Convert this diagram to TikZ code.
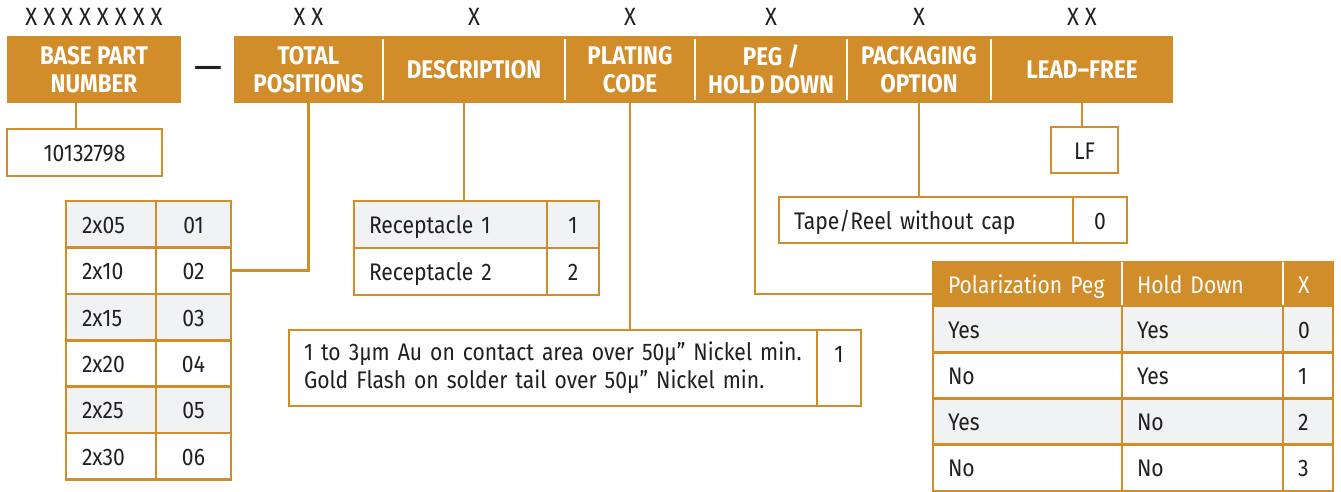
\documentclass[tikz,border=0pt]{standalone}
\usepackage{fontspec}
\setmainfont{Fira Sans}[FakeStretch=0.88]
\usepackage{tikz}
\usetikzlibrary{positioning}

\definecolor{brand}{HTML}{D18D2A}
\definecolor{rowgray}{HTML}{F1F2F3}
\definecolor{ink}{HTML}{231F20}

\tikzset{
  every node/.style={outer sep=0pt, text=ink},
  hdr/.style={fill=brand, text=white, font=\bfseries\fontsize{25.5}{28.5}\selectfont, align=center, inner sep=0pt, minimum height=67pt},
  sep/.style={draw=white, line width=2.5pt},
  box/.style={draw=brand, line width=2.6pt, fill=white, font=\fontsize{24}{28}\selectfont, inner sep=0pt, text height=20pt, text depth=2pt},
  lcell/.style={box, align=left, text width=#1, inner xsep=15pt},
  ccell/.style={box, align=center, minimum width=#1},
  phdr/.style={fill=brand, text=white},
  link/.style={draw=brand, line width=2.6pt},
  xmark/.style={font=\fontsize{25}{28}\selectfont, inner sep=0pt},
}

\begin{document}
\begin{tikzpicture}[x=1pt, y=-1pt]
\useasboundingbox (0,0) rectangle (1341,492);

% part number band
\node[hdr, minimum width=174pt, anchor=north west] (base) at (7,36) {BASE PART\\NUMBER};
\node[hdr, minimum width=149pt, anchor=north west] (tot) at (234,36) {TOTAL\\POSITIONS};
\node[hdr, minimum width=182pt] (desc) [right=0pt of tot] {DESCRIPTION};
\node[hdr, minimum width=130pt] (plat) [right=0pt of desc] {PLATING\\CODE};
\node[hdr, minimum width=152pt] (peg) [right=0pt of plat] {PEG /\\HOLD DOWN};
\node[hdr, minimum width=144pt] (pack) [right=0pt of peg] {PACKAGING\\OPTION};
\node[hdr, minimum width=182pt] (lead) [right=0pt of pack] {LEAD--FREE};
\foreach \n in {tot,desc,plat,peg,pack}
  \draw[sep] ([yshift=-3pt]\n.north east) -- ([yshift=3pt]\n.south east);

\node[xmark] (xbase) [above=10pt of base] {X\hspace{6pt}X\hspace{6pt}X\hspace{6pt}X\hspace{6pt}X\hspace{6pt}X\hspace{6pt}X\hspace{6pt}X};
\node[xmark] (xtot) [above=10pt of tot] {X X};
\node[xmark] (xdesc) [above=10pt of desc] {X};
\node[xmark] (xplat) [above=10pt of plat] {X};
\node[xmark] (xpeg) [above=10pt of peg] {X};
\node[xmark] (xpack) [above=10pt of pack] {X};
\node[xmark] (xlead) [above=10pt of lead] {X X};
\node[xmark, font=\fontsize{40}{40}\selectfont] (dash) at (208,73) {---};

% option boxes
\node[ccell=155pt, minimum height=47pt, anchor=north west] (bpn) at (7,129) {10132798};

\foreach \a/\b/\f [count=\i] in {2x05/01/rowgray, 2x10/02/white, 2x15/03/rowgray, 2x20/04/white, 2x25/05/rowgray, 2x30/06/white}{
  \node[lcell=58pt, inner xsep=16pt, minimum height=46.4pt, fill=\f, anchor=north west] (tpa\i) at (66,{201+(\i-1)*46.4}) {\a};
  \node[ccell=75pt, minimum height=46.4pt, fill=\f] (tpb\i) [right=0pt of tpa\i] {\b};
}

\foreach \a/\b/\f [count=\i] in {Receptacle 1/1/rowgray, Receptacle 2/2/white}{
  \node[lcell=163pt, minimum height=47pt, fill=\f, anchor=north west] (reca\i) at (354,{201+(\i-1)*47}) {\a};
  \node[ccell=52pt, minimum height=47pt, fill=\f] (recb\i) [right=0pt of reca\i] {\b};
}

\node[lcell=498pt, minimum height=76pt, text height={}, text depth={}, anchor=north west] (golda) at (289,330)
  {1 to 3µm Au on contact area over 50µ” Nickel min.\\Gold Flash on solder tail over 50µ” Nickel min.};
\node[ccell=44pt, minimum height=76pt, text height={}, text depth={}] (goldb) [right=0pt of golda] {1\\\phantom{1}};

\node[lcell=264pt, minimum height=46pt, anchor=north west] (tapea) at (779,197) {Tape/Reel without cap};
\node[ccell=54pt, minimum height=46pt] (tapeb) [right=0pt of tapea] {0};

\node[ccell=67pt, minimum height=46pt, anchor=north west] (lf) at (1051,127) {LF};

% peg / hold down table
\node[lcell=159pt, phdr, minimum height=44pt, anchor=north west] (pola) at (933,262) {Polarization Peg};
\node[lcell=131pt, phdr, minimum height=44pt] (polb) [right=0pt of pola] {Hold Down};
\node[lcell=20pt, phdr, minimum height=44pt] (polc) [right=0pt of polb] {X};
\draw[sep] (pola.north east) -- (pola.south east);
\draw[sep] (polb.north east) -- (polb.south east);

\foreach \a/\b/\c/\f [count=\i] in {Yes/Yes/0/rowgray, No/Yes/1/white, Yes/No/2/rowgray, No/No/3/white}{
  \node[lcell=159pt, minimum height=46.25pt, fill=\f, anchor=north west] (pga\i) at (933,{306+(\i-1)*46.25}) {\a};
  \node[lcell=131pt, minimum height=46.25pt, fill=\f] (pgb\i) [right=0pt of pga\i] {\b};
  \node[lcell=20pt, minimum height=46.25pt, fill=\f] (pgc\i) [right=0pt of pgb\i] {\c};
}

% connectors
\draw[link] ([xshift=-18pt]base.south) -- ([xshift=-18pt]base.south |- bpn.north);
\draw[link] (tot.south) |- (tpb2.east);
\draw[link] ([xshift=-10pt]desc.south) -- ([xshift=-10pt]desc.south |- reca1.north);
\draw[link] (plat.south) -- (plat.south |- golda.north);
\draw[link] ([xshift=-16pt]peg.south) |- ([yshift=12pt]pola.south west);
\draw[link] (pack.south) -- (pack.south |- tapea.north);
\draw[link] (lead.south) -- (lead.south |- lf.north);
\end{tikzpicture}
\end{document}
